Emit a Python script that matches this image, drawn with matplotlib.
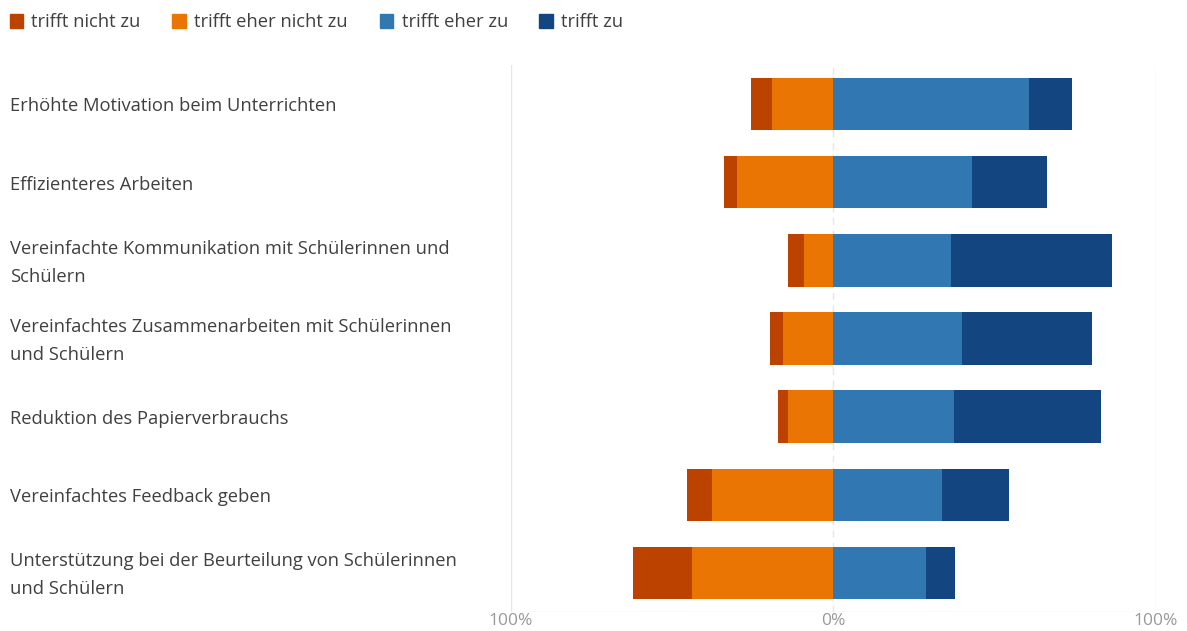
import matplotlib.pyplot as plt
import matplotlib.transforms as mtransforms
from matplotlib.patches import Patch

plt.rcParams['font.family'] = ['Open Sans', 'DejaVu Sans']

# Survey data (percent of answers)
items = [
    'Erhöhte Motivation beim Unterrichten',
    'Effizienteres Arbeiten',
    'Vereinfachte Kommunikation mit Schülerinnen und\nSchülern',
    'Vereinfachtes Zusammenarbeiten mit Schülerinnen\nund Schülern',
    'Reduktion des Papierverbrauchs',
    'Vereinfachtes Feedback geben',
    'Unterstützung bei der Beurteilung von Schülerinnen\nund Schülern',
]
nicht_zu = [6.5, 4.0, 5.1, 4.1, 3.2, 7.5, 18.3]
eher_nicht_zu = [19.2, 29.8, 9.0, 15.7, 14.0, 37.8, 43.8]
eher_zu = [60.5, 42.9, 36.5, 39.8, 37.4, 33.5, 28.7]
zu = [13.6, 23.3, 49.9, 40.5, 45.5, 20.8, 9.0]

series_names = ['trifft nicht zu', 'trifft eher nicht zu', 'trifft eher zu', 'trifft zu']
colors = ['#BC4200', '#EB7502', '#3177B1', '#134680']
xticks = [-100, 0, 100]
xticklabels = ['100%', '0%', '100%']

fig = plt.figure(figsize=(11.87, 6.31), dpi=100)
ax = fig.add_axes([511 / 1187, 1 - 612 / 631, 645 / 1187, 547 / 631])

y = list(range(len(items)))
h = 0.67
neg_inner = [-v for v in eher_nicht_zu]
neg_outer = [-v for v in nicht_zu]
ax.barh(y, neg_inner, h, color=colors[1], linewidth=0)
ax.barh(y, neg_outer, h, left=neg_inner, color=colors[0], linewidth=0)
ax.barh(y, eher_zu, h, color=colors[2], linewidth=0)
ax.barh(y, zu, h, left=eher_zu, color=colors[3], linewidth=0)

ax.set_xlim(-100, 100)
ax.set_ylim(len(items) - 0.5, -0.5)
for s in ax.spines.values():
    s.set_visible(False)
ax.axvline(-100, color='#e6e6e6', lw=1, zorder=0)
ax.axvline(100, color='#e6e6e6', lw=1, zorder=0)
ax.axvline(0, color='#e6e6e6', lw=1, ls=(0, (5, 4)), zorder=0)
ax.axhline(len(items) - 0.5, color='#ebebeb', lw=1, zorder=0)

ax.set_xticks(xticks)
ax.set_xticklabels(xticklabels, color='#999999', fontsize=12.5)
ax.tick_params(axis='x', length=0, pad=1)
ax.set_yticks([])

trans = mtransforms.blended_transform_factory(fig.transFigure, ax.transData)
for yi, label in zip(y, items):
    ax.text(10 / 1187, yi + 0.03, label, transform=trans, ha='left', va='center',
            fontsize=13.2, color='#404040', linespacing=1.72)

handles = [Patch(color=c, label=n) for c, n in zip(colors, series_names)]
fig.legend(handles=handles, loc='upper left', bbox_to_anchor=(-7 / 1187, 1 + 3 / 631),
           ncol=4, frameon=False, fontsize=13.2, handlelength=0.75, handleheight=0.75,
           handletextpad=0.45, columnspacing=1.72, labelcolor='#404040')

fig.savefig('out.png', dpi=100)
